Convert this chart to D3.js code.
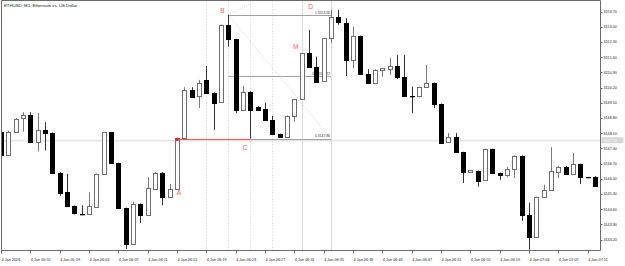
<!DOCTYPE html>
<html>
<head>
<meta charset="utf-8">
<script src="https://cdn.jsdelivr.net/npm/d3@7"></script>
<style>
  html, body { margin: 0; padding: 0; background: #fff; }
  svg { display: block; font-family: "Liberation Sans", Arial, sans-serif; }
</style>
</head>
<body>
<div id="chart"></div>
<script>
const title = 'ETHUSD, M1:  Ethereum vs. US Dollar';

// one label every 4 bars, bar 0 = 05:51
const timeLabels = ['4 Jan 2026', '4 Jan 05:55', '4 Jan 05:59', '4 Jan 06:03', '4 Jan 06:07',
  '4 Jan 06:11', '4 Jan 06:15', '4 Jan 06:19', '4 Jan 06:23', '4 Jan 06:27', '4 Jan 06:31',
  '4 Jan 06:35', '4 Jan 06:39', '4 Jan 06:43', '4 Jan 06:47', '4 Jan 06:51', '4 Jan 06:55',
  '4 Jan 06:59', '4 Jan 07:03', '4 Jan 07:07', '4 Jan 07:11'];

const opens = [3148.18, 3147.11, 3148.17, 3148.76, 3148.92, 3147.69, 3148.23, 3148.11, 3146.29, 3145.39,
  3144.73, 3144.39, 3144.38, 3144.70, 3146.22, 3148.14, 3146.73, 3144.66, 3143.00, 3144.85,
  3144.35, 3145.54, 3146.29, 3145.16, 3145.53, 3147.88, 3150.10, 3149.79, 3150.56, 3149.97,
  3149.53, 3153.09, 3152.43, 3149.18, 3150.02, 3149.33, 3149.21, 3148.69, 3148.06, 3147.92,
  3148.87, 3149.67, 3151.81, 3151.17, 3150.48, 3152.48, 3153.44, 3153.17, 3151.48, 3152.58,
  3150.83, 3150.43, 3151.02, 3151.06, 3151.20, 3150.68, 3149.80, 3149.79, 3150.22, 3150.41,
  3149.45, 3147.67, 3147.92, 3147.23, 3146.30, 3146.37, 3145.93, 3147.37, 3146.27, 3146.19,
  3146.45, 3147.06, 3144.35, 3143.32, 3145.16, 3145.50, 3146.34, 3146.57, 3146.23, 3146.68,
  3146.11, 3146.11];
const highs = [3148.25, 3148.22, 3148.80, 3149.07, 3149.07, 3149.03, 3148.61, 3148.14, 3146.31, 3146.23,
  3144.78, 3144.78, 3145.39, 3146.25, 3148.16, 3148.16, 3146.75, 3144.68, 3144.96, 3144.87,
  3146.08, 3146.31, 3146.31, 3145.77, 3147.90, 3150.22, 3150.22, 3150.56, 3151.20, 3149.99,
  3153.11, 3153.56, 3152.45, 3150.28, 3150.04, 3149.35, 3149.51, 3148.90, 3148.08, 3148.92,
  3149.69, 3151.81, 3152.86, 3151.63, 3152.50, 3153.78, 3153.78, 3153.40, 3153.01, 3152.60,
  3151.05, 3151.05, 3151.10, 3151.56, 3151.71, 3151.71, 3150.25, 3150.25, 3151.25, 3150.43,
  3149.47, 3148.11, 3148.11, 3147.25, 3146.41, 3146.39, 3147.39, 3147.39, 3146.29, 3146.55,
  3147.08, 3147.08, 3144.91, 3145.18, 3145.73, 3147.46, 3146.59, 3146.59, 3147.19, 3146.70,
  3146.11, 3146.13];
const lows = [3147.05, 3147.08, 3148.12, 3148.17, 3147.66, 3147.26, 3147.31, 3146.27, 3145.22, 3144.70,
  3144.36, 3144.37, 3144.36, 3144.68, 3146.20, 3146.71, 3144.64, 3142.77, 3142.98, 3143.97,
  3144.33, 3145.52, 3144.78, 3145.14, 3145.51, 3147.86, 3149.77, 3149.26, 3149.95, 3148.26,
  3149.51, 3152.09, 3149.03, 3149.16, 3147.86, 3149.19, 3148.67, 3148.04, 3147.90, 3147.90,
  3148.64, 3149.65, 3151.15, 3150.46, 3150.46, 3152.25, 3153.10, 3150.74, 3151.10, 3150.80,
  3150.41, 3150.41, 3150.71, 3150.79, 3150.59, 3149.77, 3149.03, 3149.77, 3150.20, 3149.26,
  3147.65, 3147.65, 3147.21, 3145.81, 3146.28, 3145.65, 3145.91, 3146.25, 3145.96, 3146.10,
  3146.04, 3144.07, 3142.74, 3143.30, 3145.14, 3145.48, 3146.04, 3146.21, 3146.21, 3145.76,
  3146.11, 3145.66];
const closes = [3147.11, 3148.18, 3148.76, 3148.92, 3147.69, 3148.23, 3148.11, 3146.29, 3145.39, 3144.73,
  3144.39, 3144.37, 3144.73, 3146.23, 3148.14, 3146.73, 3144.66, 3143.00, 3144.85, 3144.35,
  3145.58, 3146.29, 3145.19, 3145.53, 3147.88, 3150.10, 3149.79, 3150.41, 3149.97, 3149.53,
  3153.09, 3152.43, 3149.18, 3150.02, 3149.18, 3149.21, 3148.69, 3148.06, 3147.92, 3148.90,
  3149.67, 3151.79, 3151.17, 3150.48, 3152.48, 3153.47, 3153.19, 3151.48, 3152.58, 3150.82,
  3150.43, 3151.02, 3151.10, 3151.20, 3150.68, 3149.79, 3149.79, 3150.22, 3150.41, 3149.45,
  3147.67, 3147.92, 3147.23, 3146.29, 3146.39, 3145.93, 3147.37, 3146.27, 3146.19, 3146.45,
  3147.06, 3144.35, 3143.32, 3145.16, 3145.50, 3146.37, 3146.57, 3146.23, 3146.68, 3146.06,
  3146.11, 3145.68];

const priceTicks = [3153.70, 3153.00, 3152.30, 3151.60, 3150.90, 3150.20, 3149.50, 3148.80,
  3148.10, 3147.40, 3146.70, 3146.00, 3145.30, 3144.60, 3143.90, 3143.20];
const bidPrice = 3147.78;

// ABCD / fibo object
const fiboLevels = [1, 0.5, 0];
const fiboPrices = [3153.56, 3150.72, 3147.86];
const fiboStart = [31, 31, 34];   // bar where each grey level line starts
const fiboEnd = 45;
const redStart = 24, redEnd = 34; // A -> C part of the 0 level is red
const dottedBars = [28, 31, 34, 37];
const solidBars = [41, 45];
const patternNames = ['A', 'B', 'C', 'D', 'M'];
const patternBars = [23.95, 29.9, 32.95, 41.9, 39.8];
const patternPrices = [3145.25, 3153.65, 3147.32, 3153.81, 3151.97];

const W = 625, H = 266;
const plot = { left: 1.5, right: 600.5, top: 0.5, bottom: 250.5 };

const svg = d3.select('#chart').append('svg')
  .attr('width', W).attr('height', H);

svg.append('defs').append('clipPath').attr('id', 'plot')
  .append('rect')
  .attr('x', plot.left).attr('y', plot.top)
  .attr('width', plot.right - plot.left).attr('height', plot.bottom - plot.top);

const x = d3.scaleLinear().domain([0, 80]).range([1, 587.7]);
const y = d3.scaleLinear().domain([3143.20, 3153.70]).range([239.7, 11.7]);

const bars = opens.map((o, i) => ({ i, o, h: highs[i], l: lows[i], c: closes[i] }));
const px = v => Math.round(v) + 0.5;

const back = svg.append('g').attr('clip-path', 'url(#plot)');

// bid line
back.append('line')
  .attr('x1', plot.left).attr('x2', plot.right)
  .attr('y1', y(bidPrice) + 0.4).attr('y2', y(bidPrice) + 0.4)
  .attr('stroke', '#e6e6e6').attr('stroke-width', 1.6);

// vertical time lines of the pattern
back.selectAll('line.vdot').data(dottedBars).join('line')
  .attr('class', 'vdot')
  .attr('x1', d => px(x(d))).attr('x2', d => px(x(d)))
  .attr('y1', plot.top).attr('y2', plot.bottom)
  .attr('stroke', '#cccccc').attr('stroke-dasharray', '1,2');

back.selectAll('line.vsolid').data(solidBars).join('line')
  .attr('class', 'vsolid')
  .attr('x1', d => px(x(d))).attr('x2', d => px(x(d)))
  .attr('y1', plot.top).attr('y2', plot.bottom)
  .attr('stroke', '#dadada');

// diagonals
back.append('line')
  .attr('x1', x(31)).attr('y1', y(fiboPrices[0]))
  .attr('x2', x(fiboEnd)).attr('y2', y(fiboPrices[2]))
  .attr('stroke', '#cfcfcf').attr('stroke-dasharray', '1,1.5');
back.append('line')
  .attr('x1', x(31)).attr('y1', y(fiboPrices[0]))
  .attr('x2', x(34)).attr('y2', y(3154.05))
  .attr('stroke', '#cfcfcf').attr('stroke-dasharray', '1,1.5');

// level lines
back.selectAll('line.level').data(fiboPrices).join('line')
  .attr('class', 'level')
  .attr('x1', (d, k) => x(fiboStart[k])).attr('x2', x(fiboEnd))
  .attr('y1', d => px(y(d))).attr('y2', d => px(y(d)))
  .attr('stroke', '#a0a0a0');

back.selectAll('text.level').data(fiboPrices).join('text')
  .attr('class', 'level')
  .attr('x', x(fiboEnd) - 1).attr('y', d => y(d) - 1.2)
  .attr('text-anchor', 'end')
  .attr('font-size', 3.4).attr('fill', '#333')
  .text((d, k) => fiboLevels[k] + ' ' + d.toFixed(2));

back.selectAll('text.pt').data(patternNames).join('text')
  .attr('class', 'pt')
  .attr('x', (d, k) => x(patternBars[k]))
  .attr('y', (d, k) => y(patternPrices[k]))
  .attr('font-size', 6.6).attr('fill', '#ff5a5a')
  .text(d => d);

// candles
const candles = svg.append('g').attr('clip-path', 'url(#plot)');
const bull = d => d.c > d.o;

candles.selectAll('line.wick').data(bars).join('line')
  .attr('class', 'wick')
  .attr('x1', d => px(x(d.i))).attr('x2', d => px(x(d.i)))
  .attr('y1', d => y(d.h)).attr('y2', d => y(d.l))
  .attr('stroke', d => bull(d) ? '#7a7a7a' : '#333');

candles.selectAll('rect.body').data(bars).join('rect')
  .attr('class', 'body')
  .attr('x', d => Math.round(x(d.i)) - 2 + 0.5)
  .attr('y', d => px(y(Math.max(d.o, d.c))))
  .attr('width', 4)
  .attr('height', d => Math.max(0.3, Math.round(Math.abs(y(d.o) - y(d.c)))))
  .attr('fill', d => bull(d) ? '#fff' : '#000')
  .attr('stroke', d => bull(d) ? '#6e6e6e' : '#000');

// red A -> C segment sits on top of the candles
const front = svg.append('g').attr('clip-path', 'url(#plot)');
front.append('line')
  .attr('x1', x(redStart)).attr('x2', x(redEnd))
  .attr('y1', px(y(fiboPrices[2]))).attr('y2', px(y(fiboPrices[2])))
  .attr('stroke', '#ff5050');
front.append('rect')
  .attr('x', x(redStart) - 1.5).attr('y', px(y(fiboPrices[2])) - 1.5)
  .attr('width', 3).attr('height', 3)
  .attr('fill', '#ff1a1a');

// frame and axes
svg.append('path')
  .attr('d', `M${plot.left},${plot.bottom}V${plot.top}H${plot.right}V${plot.bottom}H${plot.left}`)
  .attr('fill', 'none').attr('stroke', '#6a6a6a');

svg.append('text')
  .attr('x', 4).attr('y', 6.5)
  .attr('font-size', 4.3).attr('fill', '#111')
  .text(title);

const yAxis = svg.append('g');
yAxis.selectAll('line').data(priceTicks).join('line')
  .attr('x1', plot.right).attr('x2', plot.right + 2)
  .attr('y1', d => px(y(d))).attr('y2', d => px(y(d)))
  .attr('stroke', '#6a6a6a');
yAxis.selectAll('text').data(priceTicks).join('text')
  .attr('x', plot.right + 3).attr('y', d => y(d) + 1.3)
  .attr('font-size', 3.7).attr('fill', '#222')
  .text(d => d.toFixed(2));

svg.append('rect')
  .attr('x', plot.right + 1).attr('y', y(bidPrice) - 3)
  .attr('width', 22).attr('height', 6)
  .attr('fill', '#d6d6d6');
svg.append('text')
  .attr('x', plot.right + 3).attr('y', y(bidPrice) + 1.3)
  .attr('font-size', 3.7).attr('fill', '#fafafa')
  .text(bidPrice.toFixed(2));

const xAxis = svg.append('g');
xAxis.selectAll('line').data(timeLabels).join('line')
  .attr('x1', (d, k) => px(x(k * 4))).attr('x2', (d, k) => px(x(k * 4)))
  .attr('y1', plot.bottom).attr('y2', plot.bottom + 3)
  .attr('stroke', '#6a6a6a');
xAxis.selectAll('text').data(timeLabels).join('text')
  .attr('x', (d, k) => x(k * 4) + 0.5).attr('y', 260.5)
  .attr('font-size', 3.8).attr('fill', '#222')
  .text(d => d);
</script>
</body>
</html>
